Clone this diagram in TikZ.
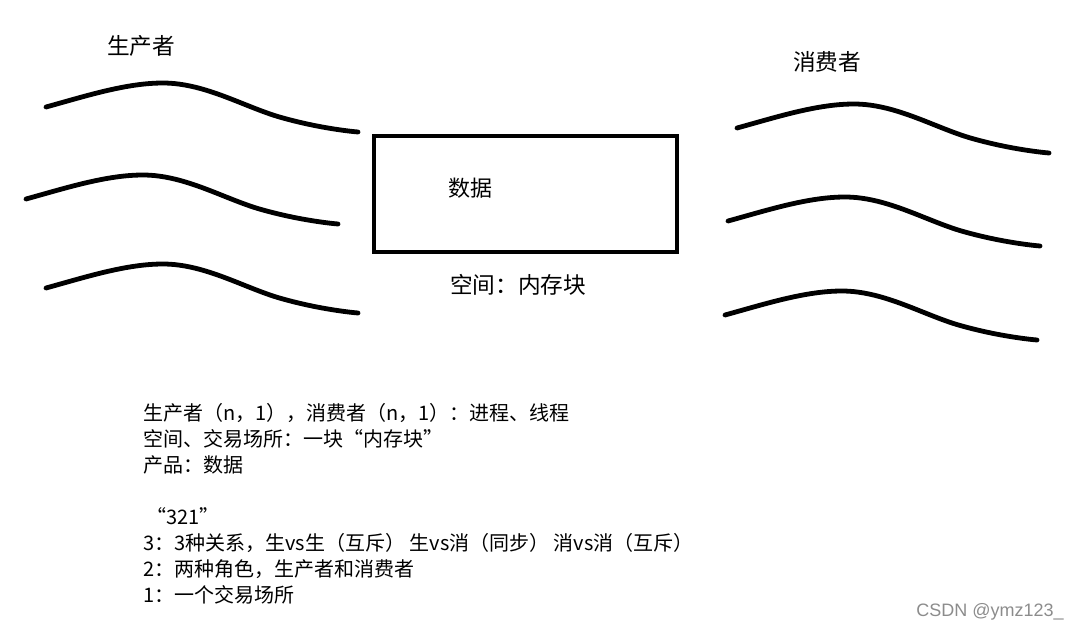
\documentclass[tikz,border=0pt]{standalone}
\usepackage{fontspec}
\setmainfont{Noto Sans CJK SC}
\newfontfamily\markfont{Liberation Sans}

\tikzset{
	wave/.pic={
		\draw[line width=3.6pt, line cap=round]
		(0,0) .. controls (40,-11) and (80,-24) .. (117,-24)
		.. controls (160,-24) and (200,1) .. (237,11)
		.. controls (262,18) and (290,23) .. (312,25);
	},
	role/.style={inner sep=0pt, font=\fontsize{17}{20}\selectfont},
	buffer/.style={draw, line width=3.6pt, minimum width=227.25pt, minimum height=87pt, inner sep=0pt},
	notes/.style={inner sep=0pt, align=left, font=\fontsize{15}{19.5}\selectfont}
}

\begin{document}
\begin{tikzpicture}[x=0.75pt, y=-0.75pt]
	\useasboundingbox (0,0) rectangle (1078,633);
	% producers
	\node[role] (prod) at (141,46) {生产者};
	\pic (p1) at (46,107) {wave};
	\pic (p2) at (26,199) {wave};
	\pic (p3) at (46,288) {wave};
	% consumers
	\node[role] (cons) at (827,62) {消费者};
	\pic (c1) at (737,128) {wave};
	\pic (c2) at (728,221) {wave};
	\pic (c3) at (725,315) {wave};
	% shared block
	\node[buffer] (buf) at (525.5,194) {};
	\node[role, font=\fontsize{16.5}{20}\selectfont] (data) at (470,188) {数据};
	\node[role] (space) at (518,285) {空间：内存块};
	% notes
	\node[notes, anchor=north west] (note) at (143,403) {%
		生产者（n，1），消费者（n，1）：进程、线程\\
		空间、交易场所：一块“内存块”\\
		产品：数据\\
		\mbox{}\\
		\,“321”\\
		3：3种关系，生vs生（互斥） 生vs消（同步） 消vs消（互斥）\\
		2：两种角色，生产者和消费者\\
		1：一个交易场所};
	\node[inner sep=0pt, anchor=east, text=black!45, font=\markfont\fontsize{13.5}{16}\selectfont] (mark) at (1064,612) {CSDN @ymz123\_};
\end{tikzpicture}
\end{document}
